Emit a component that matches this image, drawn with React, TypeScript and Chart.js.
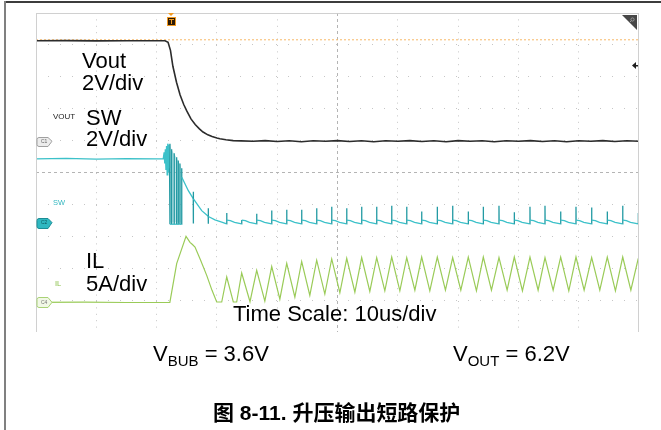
import React, { useEffect, useRef } from "react";
import { Chart, registerables } from "chart.js";

Chart.register(...registerables);

// ---------------- scope settings ----------------
const TIME_MIN = 0; // us
const TIME_MAX = 100; // us (10 us/div x 10 div)
const TIME_STEP = 10;
const TRIGGER_TIME = 22.44; // us
const TRIGGER_LEVEL = 6.36; // V on Vout channel
const REF_MARK_LEVEL = 4.8; // V on Vout channel (right-side arrow)

// channel scale (units per div) and ground position (div from centre)
const VOUT_PER_DIV = 2;
const VOUT_GROUND_DIV = 0.98;
const SW_PER_DIV = 2;
const SW_GROUND_DIV = -1.57;
const IL_PER_DIV = 5;
const IL_GROUND_DIV = -4.07;

// ---------------- data ----------------
// Vout (V)
const voutTimes = [0, 5, 10, 15, 20, 21.4, 21.9, 22.3, 22.7, 23.3, 23.9, 24.5, 25.0, 25.7, 26.4, 27.1, 27.7, 28.5, 29.2, 30.0, 30.5, 31.5, 32.7, 34,
  36, 38, 40, 42, 44, 46, 48, 50, 52, 54, 56, 58, 60, 62, 64, 66, 68, 70, 72, 74, 76, 78, 80, 82, 84, 86, 88, 90, 92, 94, 96, 98, 100];
const voutValues = [6.3, 6.31, 6.29, 6.3, 6.3, 6.3, 6.2, 5.7, 4.7, 3.7, 2.9, 2.3, 1.9, 1.4, 1.05, 0.78, 0.58, 0.4, 0.29, 0.2, 0.16, 0.09, 0.04, 0.02,
  0.0, 0.04, -0.02, 0.03, -0.03, 0.03, 0.0, 0.04, -0.02, 0.03, -0.03, 0.03, 0.0, 0.04, -0.02, 0.03, -0.03, 0.04, 0.0, 0.03, -0.03, 0.03, 0.0, 0.04, -0.02, 0.03, -0.03, 0.03, 0.0, 0.04, -0.02, 0.03, 0.0];

// SW (V): before short, burst and decay
const swTimes = [0, 5, 10, 15, 20, 21.1, 21.25, 21.35, 21.45, 21.55, 21.65, 21.75, 21.85, 21.95, 22.05, 22.15, 22.21, 22.22, 22.48, 22.49, 22.5,
  22.91, 22.92, 22.93, 23.31, 23.32, 23.33, 23.58, 23.59, 23.6, 23.86, 23.87, 23.88, 24.15, 24.16, 24.18, 25.26, 26.08, 26.09, 26.1, 26.11,
  27.48, 28.56, 28.57, 28.58, 28.59, 29.68, 30.8];
const swValues = [4.0, 4.02, 3.98, 4.01, 3.99, 4.0, 4.4, 3.7, 4.6, 3.3, 4.8, 3.0, 4.95, 3.2, 4.9, 3.4, 4.95, -0.1, -0.1, 4.6, -0.1,
  -0.1, 4.35, -0.1, -0.1, 4.1, -0.1, -0.1, 3.9, -0.1, -0.1, 3.7, -0.1, -0.1, 3.4, 2.84, 2.0, 1.5, 1.93, -0.05, 1.48,
  0.75, 0.39, 0.9, -0.08, 0.38, 0.17, 0.03];
// SW switching spikes during short-circuit hiccup
const swSpikeTimes = [31.63, 34.11, 36.6, 39.09, 41.58, 44.06, 46.55, 49.04, 51.53, 54.01, 56.5, 58.99, 61.48, 63.96, 66.55, 69.1, 71.69, 74.18,
  76.78, 79.32, 81.92, 84.41, 87.01, 89.55, 92.15, 94.74, 97.3, 99.88];
const swSpikeTops = [0.6, 0.15, 0.55, 0.75, 0.8, 0.8, 0.9, 1.0, 0.9, 1.0, 1.0, 1.05, 1.0, 0.7, 1.0, 1.05, 0.7, 1.0, 1.05, 0.65, 1.0, 1.05, 0.7,
  1.0, 0.95, 0.7, 1.05, 0.6];
const SW_LOW = -0.08;
const SW_AFTER = 0.16;
const SW_SETTLE = 0.02;
// burst envelope (shaded switching region)
const swBurstTimes = [22.22, 22.5, 22.93, 23.33, 23.6, 23.88, 24.16];
const swBurstValues = [4.9, 4.55, 4.3, 4.05, 3.85, 3.65, 3.35];

// IL (A)
const ilEarlyTimes = [0, 8, 15, 22.2, 23.33, 24.88, 25.54, 25.9, 26.37, 27.3, 28.31, 29.19, 29.97, 30.8, 31.63, 32.72, 33.28, 34.11, 35.49];
const ilEarlyValues = [0, 0.04, -0.03, 0, 6.07, 10.34, 9.4, 9.1, 8.67, 6.6, 4.23, 1.88, 0.05, 0.05, 3.97, 0.05, 0.05, 4.6, 0.1];
const ilPeakTimes = [36.6, 39.09, 41.58, 44.06, 46.55, 49.04, 51.53, 54.01, 56.5, 58.99, 61.48, 63.96, 66.55, 69.1, 71.69, 74.18, 76.78, 79.32,
  81.92, 84.41, 87.01, 89.55, 92.15, 94.74, 97.3, 99.88];
const ilPeakValues = [5.0, 5.6, 6.1, 6.4, 6.6, 6.8, 6.9, 7.0, 7.0, 7.1, 7.0, 7.1, 7.1, 7.0, 7.1, 7.1, 7.0, 7.1, 7.1, 7.0, 7.1, 7.1, 7.0, 7.1, 7.1, 6.9];
const ilTroughTimes = [37.95, 40.44, 42.93, 45.41, 47.9, 50.39, 52.88, 55.36, 57.85, 60.34, 62.83, 65.31, 67.9, 70.45, 73.04, 75.53, 78.13,
  80.67, 83.27, 85.76, 88.36, 90.9, 93.5, 96.09, 98.65];
const ilTroughValues = [0.2, 0.5, 0.8, 1.1, 1.3, 1.5, 1.6, 1.7, 1.8, 1.8, 1.9, 1.8, 1.9, 1.9, 1.8, 1.9, 1.9, 1.8, 1.9, 1.9, 1.8, 1.9, 1.9, 1.8, 1.9];

// ---------------- helpers ----------------
type P = { x: number; y: number };
const zip = (xs: number[], ys: number[]): P[] => {
  const n = Math.min(xs.length, ys.length);
  const out: P[] = [];
  for (let i = 0; i < n; i++) out.push({ x: xs[i], y: ys[i] });
  return out;
};

function buildSw(): P[] {
  const pts = zip(swTimes, swValues);
  swSpikeTimes.forEach((t, i) => {
    const next = i + 1 < swSpikeTimes.length ? swSpikeTimes[i + 1] : TIME_MAX + 2;
    pts.push({ x: t - 0.01, y: SW_LOW });
    pts.push({ x: t, y: swSpikeTops[i] });
    pts.push({ x: t + 0.02, y: SW_AFTER });
    pts.push({ x: Math.min(t + 0.6, next - 0.3), y: SW_AFTER - 0.04 });
    pts.push({ x: Math.min(t + 1.3, next - 0.2), y: SW_SETTLE });
  });
  return pts;
}

function buildIl(): P[] {
  const pts = zip(ilEarlyTimes, ilEarlyValues);
  ilPeakTimes.forEach((t, i) => {
    pts.push({ x: t, y: ilPeakValues[i] });
    if (i < ilTroughTimes.length) pts.push({ x: ilTroughTimes[i], y: ilTroughValues[i] });
  });
  return pts;
}

const axisRange = (perDiv: number, groundDiv: number) => ({
  min: (-5 - groundDiv) * perDiv,
  max: (5 - groundDiv) * perDiv,
});

const CYAN = "#3cc1c9";
const CYAN_DARK = "#239aa3";
const GREEN = "#9acb58";
const BLACK_TRACE = "#2c2c2c";

function badge(ctx: CanvasRenderingContext2D, x0: number, yc: number, h: number, fill: string, stroke: string) {
  const w = 15;
  const top = Math.round(yc - h / 2) + 0.5;
  const bot = top + h;
  ctx.beginPath();
  ctx.moveTo(x0 + 2, top);
  ctx.lineTo(x0 + w - 4, top);
  ctx.lineTo(x0 + w, yc);
  ctx.lineTo(x0 + w - 4, bot);
  ctx.lineTo(x0 + 2, bot);
  ctx.quadraticCurveTo(x0, bot, x0, bot - 2);
  ctx.lineTo(x0, top + 2);
  ctx.quadraticCurveTo(x0, top, x0 + 2, top);
  ctx.closePath();
  ctx.fillStyle = fill;
  ctx.fill();
  ctx.strokeStyle = stroke;
  ctx.lineWidth = 1;
  ctx.stroke();
}

const decorPlugin = {
  id: "scopeDecor",
  afterDatasetsDraw(chart: any) {
    const { ctx, chartArea: a, scales } = chart;
    const xs = scales.x;
    ctx.save();
    // screen edges
    ctx.strokeStyle = "#d0d0d0";
    ctx.lineWidth = 1;
    ctx.beginPath();
    ctx.moveTo(a.left + 0.5, a.top);
    ctx.lineTo(a.left + 0.5, a.bottom);
    ctx.moveTo(a.right - 0.5, a.top);
    ctx.lineTo(a.right - 0.5, a.bottom);
    ctx.moveTo(a.left, a.top + 0.5);
    ctx.lineTo(a.right, a.top + 0.5);
    ctx.stroke();

    // trigger position marker
    const tx = Math.round(xs.getPixelForValue(TRIGGER_TIME));
    ctx.fillStyle = "#f29a22";
    ctx.beginPath();
    ctx.moveTo(tx - 3, a.top);
    ctx.lineTo(tx + 3, a.top);
    ctx.lineTo(tx, a.top + 3);
    ctx.closePath();
    ctx.fill();
    ctx.fillRect(tx - 4, a.top + 4, 9, 9);
    ctx.fillStyle = "#2b1a06";
    ctx.fillRect(tx - 3, a.top + 5, 7, 7);
    ctx.fillStyle = "#f29a22";
    ctx.fillRect(tx - 2, a.top + 6, 5, 1);
    ctx.fillRect(tx, a.top + 6, 1, 5);

    // right-side level arrow
    const ay = Math.round(scales.yV.getPixelForValue(REF_MARK_LEVEL)) + 0.5;
    ctx.fillStyle = "#1e1e1e";
    ctx.beginPath();
    ctx.moveTo(a.right - 7, ay);
    ctx.lineTo(a.right - 3, ay - 3.5);
    ctx.lineTo(a.right - 3, ay + 3.5);
    ctx.closePath();
    ctx.fill();
    ctx.fillRect(a.right - 4, ay - 0.5, 3, 1.5);

    // corner triangle
    ctx.fillStyle = "#474747";
    ctx.beginPath();
    ctx.moveTo(a.right - 17, a.top + 2);
    ctx.lineTo(a.right - 2, a.top + 2);
    ctx.lineTo(a.right - 2, a.top + 17);
    ctx.closePath();
    ctx.fill();
    ctx.strokeStyle = "#9a9a9a";
    ctx.lineWidth = 1;
    ctx.beginPath();
    ctx.arc(a.right - 6.5, a.top + 6.5, 1.6, 0, Math.PI * 2);
    ctx.moveTo(a.right - 7.5, a.top + 7.5);
    ctx.lineTo(a.right - 10, a.top + 10);
    ctx.stroke();

    // channel ground badges
    badge(ctx, a.left + 1, scales.yV.getPixelForValue(0), 9, "#ececec", "#a0a0a0");
    badge(ctx, a.left + 1, scales.ySW.getPixelForValue(0), 10, "#2fb8c1", "#1c8d95");
    badge(ctx, a.left + 1, scales.yIL.getPixelForValue(0), 10, "#f1f8e6", "#a9d276");
    ctx.restore();
  },
};

// ---------------- text overlays ----------------
const FONT = '"Liberation Sans", Arial, Helvetica, sans-serif';
function Txt(props: { x: number; base: number; size: number; color?: string; bold?: boolean; family?: string; children: any }) {
  const { x, base, size, color = "#000", bold = false, family = FONT, children } = props;
  return (
    <div
      style={{
        position: "absolute",
        left: x,
        top: base - size * 0.8465,
        fontSize: size,
        lineHeight: `${size}px`,
        fontFamily: family,
        color,
        fontWeight: bold ? 700 : 400,
        whiteSpace: "nowrap",
      }}
    >
      {children}
    </div>
  );
}

const subStyle: React.CSSProperties = { fontSize: 15, verticalAlign: "-5px", lineHeight: 0 };

export default function App() {
  const ref = useRef<HTMLCanvasElement | null>(null);

  useEffect(() => {
    if (!ref.current) return;
    const vR = axisRange(VOUT_PER_DIV, VOUT_GROUND_DIV);
    const sR = axisRange(SW_PER_DIV, SW_GROUND_DIV);
    const iR = axisRange(IL_PER_DIV, IL_GROUND_DIV);

    const chart = new Chart(ref.current, {
      type: "line",
      data: {
        datasets: [
          {
            label: "Vout",
            data: zip(voutTimes, voutValues),
            yAxisID: "yV",
            borderColor: BLACK_TRACE,
            borderWidth: 1.6,
            pointRadius: 0,
            tension: 0,
            order: 1,
          },
          {
            label: "SW",
            data: buildSw(),
            yAxisID: "ySW",
            borderColor: CYAN,
            borderWidth: 1.3,
            pointRadius: 0,
            tension: 0,
            order: 2,
            segment: {
              borderColor: (c: any) => (Math.abs(c.p1.x - c.p0.x) < 0.6 ? CYAN_DARK : CYAN),
            },
          },
          {
            label: "IL",
            data: buildIl(),
            yAxisID: "yIL",
            borderColor: GREEN,
            borderWidth: 1.2,
            pointRadius: 0,
            tension: 0,
            order: 3,
          },
          {
            label: "SW burst",
            data: zip(swBurstTimes, swBurstValues),
            yAxisID: "ySW",
            borderWidth: 0,
            borderColor: "rgba(0,0,0,0)",
            backgroundColor: "rgba(110,195,202,0.45)",
            fill: "origin",
            pointRadius: 0,
            tension: 0,
            order: 9,
          },
          {
            label: "Trigger level",
            data: [
              { x: TIME_MIN, y: TRIGGER_LEVEL },
              { x: TIME_MAX, y: TRIGGER_LEVEL },
            ],
            yAxisID: "yV",
            borderColor: "#f7b765",
            borderWidth: 1,
            borderDash: [2, 2],
            pointRadius: 0,
            order: 10,
          },
        ],
      },
      options: {
        animation: false,
        responsive: false,
        devicePixelRatio: 1,
        events: [],
        layout: { padding: { left: 36, top: 13, right: 22, bottom: 98 } },
        plugins: { legend: { display: false }, tooltip: { enabled: false } },
        scales: {
          x: {
            type: "linear",
            min: TIME_MIN,
            max: TIME_MAX,
            ticks: { display: false, stepSize: TIME_STEP },
            grid: {
              drawTicks: false,
              lineWidth: 1,
              color: (c: any) => {
                const v = c.tick ? c.tick.value : null;
                if (v === TIME_MIN || v === TIME_MAX) return "rgba(0,0,0,0)";
                if (v === 50) return "#b4b4b4";
                return "#c6c6c6";
              },
            },
            border: {
              display: false,
              dash: (c: any) => (c.tick && c.tick.value === 50 ? [3, 3] : [1, 5.4]),
            },
          },
          yDiv: {
            type: "linear",
            position: "left",
            min: -5,
            max: 5,
            ticks: { display: false, stepSize: 1 },
            grid: {
              drawTicks: false,
              lineWidth: 1,
              color: (c: any) => {
                const v = c.tick ? c.tick.value : null;
                if (v === 5 || v === -5) return "rgba(0,0,0,0)";
                if (v === 0) return "#b4b4b4";
                return "#c6c6c6";
              },
            },
            border: {
              display: false,
              dash: (c: any) => (c.tick && c.tick.value === 0 ? [3, 3] : [1, 11]),
            },
          },
          yV: { type: "linear", display: false, min: vR.min, max: vR.max },
          ySW: { type: "linear", display: false, min: sR.min, max: sR.max },
          yIL: { type: "linear", display: false, min: iR.min, max: iR.max },
        },
      } as any,
      plugins: [decorPlugin],
    });
    return () => chart.destroy();
  }, []);

  return (
    <div style={{ position: "absolute", left: 0, top: 0, width: 661, height: 430, background: "#fff", overflow: "hidden" }}>
      <canvas ref={ref} width={661} height={430} style={{ position: "absolute", left: 0, top: 0, width: 661, height: 430 }} />
      {/* figure frame */}
      <div style={{ position: "absolute", left: 4, top: 1, width: 657, height: 2, background: "#3c3c3c" }} />
      <div style={{ position: "absolute", left: 4, top: 1, width: 2, height: 429, background: "#808080" }} />

      {/* channel annotations */}
      <Txt x={82} base={68.3} size={22}>Vout</Txt>
      <Txt x={82} base={90.7} size={22}>2V/div</Txt>
      <Txt x={86} base={126} size={22}>SW</Txt>
      <Txt x={86} base={147} size={22}>2V/div</Txt>
      <Txt x={86} base={268.3} size={22}>IL</Txt>
      <Txt x={86} base={291.7} size={22}>5A/div</Txt>
      <Txt x={233} base={322} size={22}>Time Scale: 10us/div</Txt>

      {/* scope channel labels */}
      <Txt x={53} base={119.5} size={8} color="#222">VOUT</Txt>
      <Txt x={53} base={205.5} size={7.5} color="#36b9c2">SW</Txt>
      <Txt x={55} base={286.5} size={7.5} color="#8cc04c">IL</Txt>
      <Txt x={41} base={143.3} size={5} color="#666">C1</Txt>
      <Txt x={41} base={224.5} size={5} color="#0d5a60">C2</Txt>
      <Txt x={41} base={304.5} size={5} color="#777">C4</Txt>

      {/* conditions */}
      <Txt x={153} base={361.7} size={22}>
        V<span style={subStyle}>BUB</span> = 3.6V
      </Txt>
      <Txt x={453} base={361.7} size={22}>
        V<span style={subStyle}>OUT</span> = 6.2V
      </Txt>

      {/* caption */}
      <Txt x={213} base={420} size={21} bold family={'"Liberation Sans", Arial, "Noto Sans CJK SC", sans-serif'}>
        图 8-11. 升压输出短路保护
      </Txt>
    </div>
  );
}
